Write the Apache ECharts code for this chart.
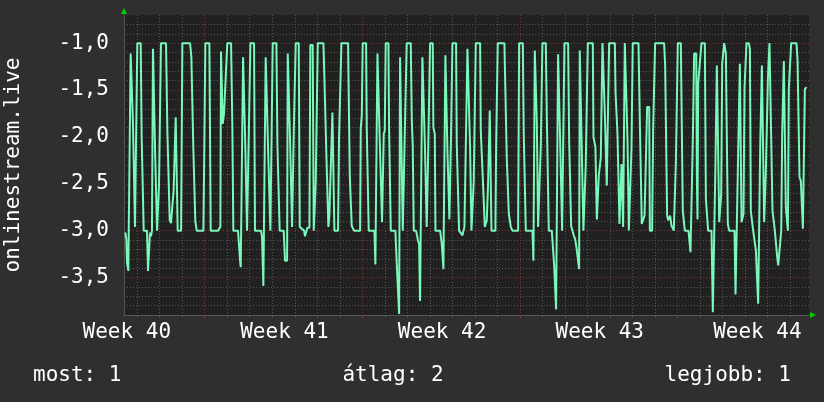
<!DOCTYPE html>
<html>
<head>
<meta charset="utf-8">
<script src="https://cdn.jsdelivr.net/npm/echarts/dist/echarts.min.js"></script>
<style>html,body{margin:0;padding:0;background:#2f2f2f;}#c{width:824px;height:402px;}</style>
</head>
<body>
<div id="c"></div>
<script>
// time in hours from the left edge of the 5-week window
const times = [
1.4,2.5,3.2,4.6,6.0,7.1,8.5,9.6,10.7,11.7,
12.8,14.2,17.8,18.8,19.9,21.0,24.5,25.6,26.7,27.7,
28.8,29.8,30.9,32.0,33.0,34.1,35.2,36.2,37.3,39.4,
44.8,46.2,47.6,48.7,50.1,51.9,52.9,54.0,55.1,56.1,
57.2,60.8,62.2,70.4,71.8,72.8,73.9,75.0,76.0,77.5,
84.6,85.6,86.7,91.0,92.4,100.2,101.6,102.7,103.4,104.5,
105.2,106.6,110.1,114.1,115.5,116.5,121.5,
122.2,123.7,124.4,125.8,126.9,128.3,129.3,130.4,131.1,132.2,
132.9,134.7,138.6,139.6,146.0,147.1,148.5,150.3,151.0,152.4,
153.5,154.9,156.0,157.4,158.5,162.4,163.5,164.9,165.9,170.2,
171.6,173.8,174.5,176.2,177.0,178.0,179.1,180.2,180.9,181.9,
183.0,186.2,187.3,191.9,192.9,194.0,195.4,197.6,198.6,201.1,
202.2,203.6,204.3,205.4,206.5,212.5,213.6,214.6,215.7,216.8,
217.8,218.9,219.9,221.0,222.1,223.1,224.2,228.1,229.2,230.6,
231.7,238.8,240.6,
242.7,243.8,245.2,251.6,252.3,253.4,254.4,258.0,258.7,260.1,
260.8,266.9,267.9,269.3,270.1,271.8,272.5,274.0,275.0,276.1,
276.8,277.9,278.9,281.8,282.5,283.6,284.3,289.2,290.7,292.1,
293.2,294.2,296.3,297.1,298.5,299.5,300.3,301.3,305.6,306.7,
307.7,308.8,311.3,312.3,313.4,314.5,315.5,317.0,318.0,319.8,
320.9,321.9,322.6,323.7,324.8,326.2,329.0,329.7,331.2,331.9,
336.9,338.6,340.4,341.8,342.5,344.0,344.7,345.7,346.8,347.5,
348.6,350.0,353.9,354.6,356.4,357.1,359.2,360.7,362.8,364.6,
365.3,366.0,368.1,368.8,369.6,370.3,372.0,372.7,373.8,374.9,
379.5,380.2,381.6,382.7,383.8,384.5,385.9,386.6,388.0,389.1,
389.8,390.9,391.6,395.8,396.6,397.6,398.3,405.4,406.9,407.9,
409.0,410.1,411.1,412.2,414.0,420.0,421.1,425.0,426.0,427.1,
428.2,435.3,436.3,437.4,437.8,439.2,439.9,440.6,441.3,443.1,
444.2,444.9,445.9,449.5,450.6,451.6,452.7,455.9,457.0,458.4,
459.5,460.5,461.6,462.6,464.1,464.8,465.8,466.9,468.3,469.4,
473.3,474.4,475.4,476.5,477.9,479.3,480.8,482.2,483.6,
485.0,485.7,487.2,487.9,488.9,489.6,491.4,492.1,493.2,494.3,
499.6,500.3,501.7,502.4,503.9,505.3,506.0,507.1,508.1,509.2,
509.9,511.7,512.4,513.5,514.5,515.9,517.0,523.1,523.8,524.8,
525.9,527.0,528.0,529.1,530.2,531.2,531.9,533.0,533.7,535.8,
536.6,537.3,538.0,539.7,540.8,541.5,542.2,548.3,549.7,550.8,
551.8,553.3,554.7,555.7,556.8,557.5,559.7,560.4,562.8,563.9,
565.0,566.0,575.6,576.7,577.8,578.8,579.9,581.0,582.0,583.5,
584.9,585.9,587.0,588.1,589.1,590.2,593.4,594.5,595.5,597.0,
597.7,601.6,602.6,603.7,605.1,606.2,
607.6,609.8,610.5,611.2,611.9,614.0,615.4,619.0,620.1,621.5,
622.5,626.1,627.5,629.3,630.0,631.1,631.8,633.6,634.3,635.3,
636.4,637.5,638.5,639.6,640.3,641.4,642.4,643.5,644.9,650.6,
651.7,653.5,654.2,655.2,656.3,657.4,658.1,659.1,660.2,661.3,
662.3,663.4,665.9,667.0,668.0,669.4,670.5,672.3,673.4,674.8,
675.8,677.3,678.0,679.0,679.8,681.5,682.2,683.3,684.0,685.1,
686.2,687.2,687.9,689.7,691.1,692.5,693.6,695.0,696.1,697.2,
699.0,700.4,701.4,702.5,703.2,704.3,705.3,706.4,707.5,708.5,
710.0,711.0,716.7,717.8,718.8,719.9,721.3,722.4,723.5,724.9,
725.6,727.4
];
const values = [
-3.02,-3.09,-3.34,-3.43,-3.43,-1.11,-1.11,-1.88,-1.90,-2.96,
-2.96,-1.00,-1.00,-2.00,-2.02,-3.00,-3.00,-3.43,-3.43,-3.02,
-3.06,-3.00,-1.06,-1.08,-2.09,-2.11,-3.00,-3.00,-2.52,-1.00,
-1.00,-1.93,-1.95,-2.89,-2.92,-2.92,-2.57,-2.57,-1.79,-1.80,
-3.00,-3.00,-1.00,-1.00,-1.15,-1.16,-2.13,-2.13,-2.90,-3.00,
-3.00,-2.11,-1.00,-1.00,-3.00,-3.00,-2.98,-2.96,-1.09,-1.10,
-1.86,-1.75,-1.00,-1.00,-1.91,-3.00,-3.00,
-3.00,-3.32,-3.39,-3.39,-1.15,-1.15,-2.11,-2.11,-3.00,-3.00,
-2.02,-1.00,-1.00,-3.00,-3.00,-3.07,-3.59,-3.59,-1.15,-1.15,
-2.11,-2.11,-3.00,-3.00,-1.00,-1.00,-2.09,-2.09,-3.00,-3.00,
-3.32,-3.32,-1.11,-1.11,-2.04,-2.04,-2.96,-2.96,-1.97,-1.97,
-1.00,-1.00,-2.96,-3.00,-3.06,-3.02,-2.97,-2.97,-1.02,-1.02,
-3.00,-3.00,-2.50,-2.49,-1.00,-1.00,-1.38,-1.38,-2.20,-2.20,
-2.96,-2.84,-2.48,-2.47,-1.74,-1.74,-3.00,-3.00,-2.00,-2.00,
-1.00,-1.00,-2.41,
-2.95,-2.96,-3.00,-3.00,-1.91,-1.77,-1.00,-1.00,-1.91,-1.91,
-3.00,-3.00,-3.36,-3.36,-1.11,-1.11,-2.02,-2.02,-2.91,-2.91,
-1.97,-1.93,-1.00,-1.00,-1.91,-1.93,-3.00,-3.00,-3.36,-3.37,
-3.89,-1.15,-1.15,-3.00,-3.00,-1.83,-1.83,-1.00,-1.00,-1.83,
-2.09,-3.00,-3.00,-3.02,-3.11,-3.14,-3.75,-3.75,-1.15,-1.15,
-2.18,-2.18,-2.96,-2.43,-2.43,-1.00,-1.00,-1.90,-1.97,-3.00,
-3.00,-3.14,-3.41,-3.41,-1.13,-1.13,-2.16,-2.18,-2.88,-2.88,
-1.93,-1.00,-1.00,-2.07,-2.09,-3.00,-3.00,-3.05,-2.96,-2.96,
-2.96,-1.06,-1.06,-2.11,-2.11,-3.00,-3.00,-2.48,-2.48,-1.00,
-1.00,-1.93,-1.93,-2.52,-2.52,-2.96,-2.96,-2.89,-2.50,-2.50,
-1.72,-1.72,-3.00,-3.00,-2.09,-2.09,-1.00,-1.00,-1.02,-2.22,
-2.22,-2.82,-2.84,-2.96,-3.00,-3.00,-1.00,-1.00,-1.97,-1.97,
-3.00,-3.00,-3.32,-3.32,-1.08,-1.08,-1.83,-1.83,-2.96,-2.96,
-2.09,-2.09,-1.00,-1.00,-1.79,-1.79,-3.00,-3.00,-3.02,-3.37,
-3.37,-3.84,-3.84,-1.12,-1.12,-2.04,-2.04,-3.00,-3.00,-1.00,
-1.00,-2.04,-2.06,-2.95,-2.96,-3.05,-3.09,-3.18,-3.18,
-3.41,-1.08,-1.08,-2.16,-2.18,-3.00,-3.00,-2.29,-2.29,-1.00,
-1.00,-2.00,-2.00,-2.11,-2.88,-2.88,-2.41,-2.41,-2.22,-2.22,
-1.00,-1.00,-1.75,-1.75,-2.52,-2.52,-1.00,-1.00,-1.52,-1.54,
-1.97,-1.99,-2.93,-2.93,-2.29,-2.29,-2.96,-2.96,-1.00,-1.00,
-2.04,-2.04,-3.00,-3.00,-2.13,-2.13,-1.00,-1.00,-1.83,-1.84,
-2.93,-2.93,-2.84,-2.45,-2.45,-1.68,-1.68,-3.00,-3.00,-1.93,
-1.93,-1.00,-1.00,-1.24,-1.24,-2.84,-2.89,-2.91,-2.84,-2.95,
-2.93,-3.00,-3.00,-2.29,-2.29,-1.00,-1.00,-1.02,-2.79,-2.80,
-3.00,-3.00,-3.11,-3.23,-3.23,-2.03,
-1.11,-1.11,-2.43,-2.88,-1.43,-1.43,-1.00,-1.00,-2.66,-2.68,
-3.00,-3.00,-3.87,-3.87,-2.47,-2.47,-1.24,-1.24,-2.91,-2.91,
-2.61,-1.22,-1.20,-1.00,-1.00,-1.11,-1.11,-2.93,-3.00,-3.00,
-3.68,-3.68,-2.34,-2.34,-1.22,-1.22,-2.91,-2.91,-2.82,-1.47,
-1.45,-1.00,-1.00,-1.06,-2.79,-2.80,-3.00,-3.00,-3.21,-3.21,
-3.78,-3.78,-2.11,-2.11,-1.24,-1.24,-2.91,-2.93,-2.38,-2.38,
-1.38,-1.38,-1.00,-1.02,-2.79,-2.80,-3.00,-3.00,-3.28,-3.37,
-3.37,-3.00,-2.00,-2.00,-1.19,-1.19,-2.75,-2.75,-3.00,-1.49,
-1.49,-1.00,-1.00,-1.19,-1.20,-2.43,-2.47,-2.47,-2.98,-2.98,
-1.49,-1.47
];
const weekLabels = ['Week 40', 'Week 41', 'Week 42', 'Week 43', 'Week 44'];
const yTicks = [-3.5, -3.0, -2.5, -2.0, -1.5, -1.0];
const footerLabels = ['most: 1', 'átlag: 2', 'legjobb: 1'];
const axisTitle = 'onlinestream.live';

const FONT = 'DejaVu Sans Mono';
const FS = 21;
const TXT = '#ffffff';
const MINOR = '#555555';
const MAJOR = '#843434';
const AXIS = '#555555';
const ARROW = '#00d000';
const SPAN = 730;            // hours in the window
const DAY = 24, WEEK = 168;
const FIRST_DAY = 14;        // hour of first midnight inside window
const FIRST_WEEK = 86;       // hour of first week boundary
const FIRST_LABEL = 3;       // hour where week labels are anchored
const Y_MIN = -3.9, Y_MAX = -0.7;

// hourly slots for the grid (category) axes; 0.1 steps for the value grid
const hourSlots = [];
for (let h = 0; h <= SPAN; h++) hourSlots.push(h);
const ySlots = [];
for (let k = Math.round(Y_MIN * 10); k <= Math.round(Y_MAX * 10); k++) ySlots.push((k / 10).toFixed(1));

const chart = echarts.init(document.getElementById('c'), null, {renderer: 'canvas', width: 824, height: 402});
const data = times.map((t, i) => [t, values[i]]);
const noLabel = {show: false};
const noLine = {show: false};
const noTick = {show: false};
const noSplit = {show: false};

const inner = i => i > 0 && i < SPAN;
const isWeek = i => inner(i) && (i - FIRST_WEEK) % WEEK === 0;
const isDay = i => inner(i) && (i - FIRST_DAY) % DAY === 0 && !isWeek(i);
const isLabel = i => (i - FIRST_LABEL) % WEEK === 0 && i >= FIRST_LABEL;
const isHalf = i => yTicks.some(t => Math.abs(t - parseFloat(ySlots[i])) < 1e-6);
const yMinor = i => i > 0 && i < ySlots.length - 1 && !isHalf(i);

function dotted(color) { return {color: color, width: 1, type: [1, 2]}; }
const xCat = {type: 'category', position: 'bottom', offset: 0, gridIndex: 0, data: hourSlots, boundaryGap: false};
const yCat = {type: 'category', position: 'left', offset: 0, gridIndex: 0, data: ySlots, boundaryGap: false};
const xVal = {type: 'value', position: 'bottom', offset: 0, gridIndex: 0, min: 0, max: SPAN};
const yVal = {type: 'value', position: 'left', offset: 0, gridIndex: 0, min: Y_MIN, max: Y_MAX};
const txt = {color: TXT, fontFamily: FONT, fontSize: FS, fontWeight: 'normal'};

const option = {
  backgroundColor: '#2f2f2f',
  animation: false,
  textStyle: {fontFamily: FONT},
  grid: {left: 124, top: 15, width: 685, height: 300, show: true, backgroundColor: '#212121', borderWidth: 0,
         containLabel: false, outerBoundsMode: 'none'},
  title: [
    {text: footerLabels[0], left: 33, top: 365, padding: 0, textStyle: txt},
    {text: footerLabels[1], left: 393, top: 365, padding: 0, textAlign: 'center', textStyle: txt},
    {text: footerLabels[2], right: 33, top: 365, padding: 0, textStyle: txt}
  ],
  xAxis: [
    // 0: day grid
    Object.assign({}, xCat, {z: 0, axisLine: noLine, axisLabel: noLabel,
      axisTick: {show: true, length: 2, interval: isDay, lineStyle: {color: '#666'}},
      splitLine: {show: true, interval: isDay, lineStyle: dotted(MINOR)}}),
    // 1: week grid
    Object.assign({}, xCat, {z: 1, axisLine: noLine, axisLabel: noLabel,
      axisTick: {show: true, length: 3, interval: isWeek, lineStyle: {color: MAJOR}},
      splitLine: {show: true, interval: isWeek, lineStyle: dotted(MAJOR)}}),
    // 2: week labels
    Object.assign({}, xCat, {z: 1, axisLine: noLine, axisTick: noTick, splitLine: noSplit,
      axisLabel: Object.assign({show: true, margin: 7, interval: isLabel,
        formatter: function (v, i) { return weekLabels[Math.round((i - FIRST_LABEL) / WEEK)] || ''; }}, txt)}),
    // 3: data axis
    Object.assign({}, xVal, {z: 2, axisLine: {show: true, lineStyle: {color: AXIS, width: 1}},
      axisTick: noTick, axisLabel: noLabel, splitLine: noSplit}),
    // 4: arrow
    Object.assign({}, xVal, {z: 3,
      axisLine: {show: true, symbol: ['none', 'triangle'], symbolSize: [6, 6], symbolOffset: [0, 4],
        lineStyle: {color: ARROW, width: 0}},
      axisTick: noTick, axisLabel: noLabel, splitLine: noSplit})
  ],
  yAxis: [
    // 0: minor grid
    Object.assign({}, yCat, {z: 0, axisLine: noLine, axisLabel: noLabel, axisTick: noTick,
      splitLine: {show: true, interval: yMinor, lineStyle: dotted(MINOR)}}),
    // 1: major grid + labels + title
    Object.assign({}, yCat, {z: 1,
      axisLine: {show: true, lineStyle: {color: AXIS, width: 1}},
      axisTick: noTick,
      axisLabel: Object.assign({show: true, margin: 15, interval: isHalf,
        formatter: function (v) { return parseFloat(v).toFixed(1).replace('.', ','); }}, txt),
      splitLine: {show: true, interval: isHalf, lineStyle: dotted(MAJOR)},
      name: axisTitle, nameLocation: 'middle', nameRotate: 90, nameGap: 100,
      nameTextStyle: txt}),
    // 2: data axis
    Object.assign({}, yVal, {z: 2, axisLine: noLine, axisTick: noTick, axisLabel: noLabel, splitLine: noSplit}),
    // 3: arrow
    Object.assign({}, yVal, {z: 3,
      axisLine: {show: true, symbol: ['none', 'triangle'], symbolSize: [6, 6], symbolOffset: [0, 4],
        lineStyle: {color: ARROW, width: 0}},
      axisTick: noTick, axisLabel: noLabel, splitLine: noSplit})
  ],
  series: [{
    type: 'line', xAxisIndex: 3, yAxisIndex: 2, data: data,
    showSymbol: false, symbol: 'none', z: 5,
    lineStyle: {color: '#7af7ba', width: 2},
    silent: true
  }]
};
if (times.length !== values.length) console.error('length mismatch', times.length, values.length);
chart.setOption(option);
</script>
</body>
</html>
